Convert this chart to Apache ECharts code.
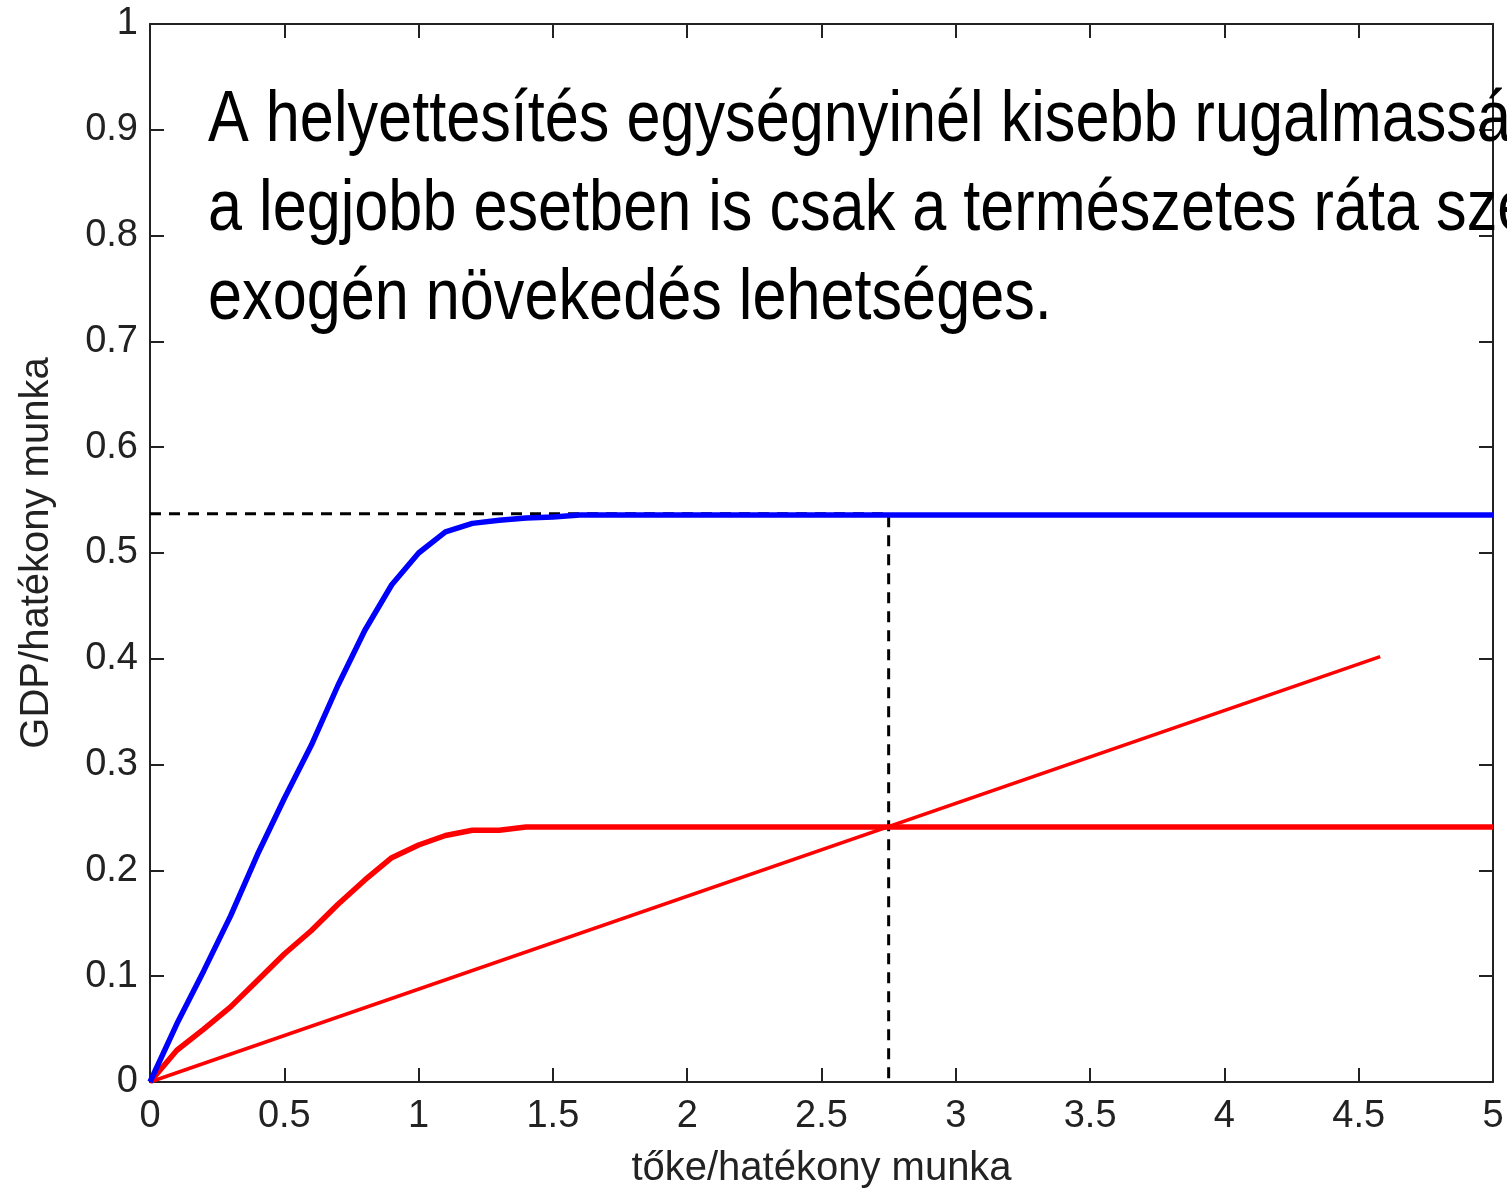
<!DOCTYPE html>
<html>
<head>
<meta charset="utf-8">
<script src="https://cdn.jsdelivr.net/npm/echarts@6/dist/echarts.min.js"></script>
<style>html,body{margin:0;padding:0;background:#fff}#c{width:1507px;height:1189px}</style>
</head>
<body>
<div id="c"></div>
<script>
// Data
const blueX = [0, 0.1, 0.2, 0.3, 0.4, 0.5, 0.6, 0.7, 0.8, 0.9, 1.0, 1.1, 1.2, 1.3, 1.4, 1.5, 1.6, 5];
const blueY = [0, 0.055, 0.105, 0.157, 0.215, 0.268, 0.318, 0.375, 0.427, 0.470, 0.500, 0.520, 0.528, 0.531, 0.533, 0.534, 0.536, 0.536];
const redX = [0, 0.1, 0.2, 0.3, 0.4, 0.5, 0.6, 0.7, 0.8, 0.9, 1.0, 1.1, 1.2, 1.3, 1.4, 5];
const redY = [0, 0.030, 0.050, 0.071, 0.096, 0.121, 0.143, 0.168, 0.191, 0.212, 0.224, 0.233, 0.238, 0.238, 0.241, 0.241];
const lineX = [0, 4.58];
const lineY = [0, 0.402];
const guideX = [0, 2.75, 2.75];
const guideY = [0.537, 0.537, 0];
const xTicks = [0, 0.5, 1, 1.5, 2, 2.5, 3, 3.5, 4, 4.5, 5];
const yTicks = [0, 0.1, 0.2, 0.3, 0.4, 0.5, 0.6, 0.7, 0.8, 0.9, 1];
const xName = 'tőke/hatékony munka';
const yName = 'GDP/hatékony munka';
const noteLines = [
  'A helyettesítés egységnyinél kisebb rugalmassága esetén',
  'a legjobb esetben is csak a természetes ráta szerinti',
  'exogén növekedés lehetséges.'
];

const zip = (xs, ys) => xs.map((x, i) => [x, ys[i]]);
const labelFont = { fontFamily: 'Liberation Sans, Arial, sans-serif', fontSize: 38, color: '#222' };
const axisLine = { show: true, onZero: false, lineStyle: { color: '#222', width: 2 } };
const tick = { show: true, inside: true, length: 14, lineStyle: { color: '#222', width: 2 } };

const chart = echarts.init(document.getElementById('c'), null, { renderer: 'canvas' });
chart.setOption({
  animation: false,
  backgroundColor: '#fff',
  grid: { left: 150, right: 14, top: 24, bottom: 107, containLabel: false, outerBoundsMode: 'none' },
  xAxis: [
    {
      type: 'value', min: 0, max: 5, interval: 0.5, position: 'bottom',
      name: xName, nameLocation: 'middle', nameGap: 67,
      nameTextStyle: Object.assign({}, labelFont, { fontSize: 40 }),
      axisLine, axisTick: tick,
      axisLabel: Object.assign({}, labelFont, { margin: 16, formatter: v => String(v) }),
      splitLine: { show: false }
    },
    {
      type: 'value', min: 0, max: 5, interval: 0.5, position: 'top',
      axisLine, axisTick: tick, axisLabel: { show: false }, splitLine: { show: false }
    }
  ],
  yAxis: [
    {
      type: 'value', min: 0, max: 1, interval: 0.1, position: 'left',
      name: yName, nameLocation: 'middle', nameGap: 93, nameRotate: 90,
      nameTextStyle: Object.assign({}, labelFont, { fontSize: 40 }),
      axisLine, axisTick: tick,
      axisLabel: Object.assign({}, labelFont, { margin: 12, formatter: v => String(v) }),
      splitLine: { show: false }
    },
    {
      type: 'value', min: 0, max: 1, interval: 0.1, position: 'right',
      axisLine, axisTick: tick, axisLabel: { show: false }, splitLine: { show: false }
    }
  ],
  series: [
    {
      type: 'line', data: zip(guideX, guideY), showSymbol: false, silent: true,
      lineStyle: { color: '#000', width: 3, type: [11, 8] }, z: 2
    },
    {
      type: 'line', data: zip(lineX, lineY), showSymbol: false,
      lineStyle: { color: '#ff0000', width: 3.5 }, z: 3
    },
    {
      type: 'line', data: zip(redX, redY), showSymbol: false,
      lineStyle: { color: '#ff0000', width: 5.5 }, z: 4
    },
    {
      type: 'line', data: zip(blueX, blueY), showSymbol: false,
      lineStyle: { color: '#0000ff', width: 5.5 }, z: 5
    }
  ],
  graphic: [
    {
      type: 'text', x: 208, y: 77, scaleX: 0.85, z: 10,
      style: {
        text: noteLines.join('\n'),
        font: '72px "Liberation Sans", Arial, sans-serif',
        lineHeight: 89,
        fill: '#000'
      }
    }
  ]
});
</script>
</body>
</html>
